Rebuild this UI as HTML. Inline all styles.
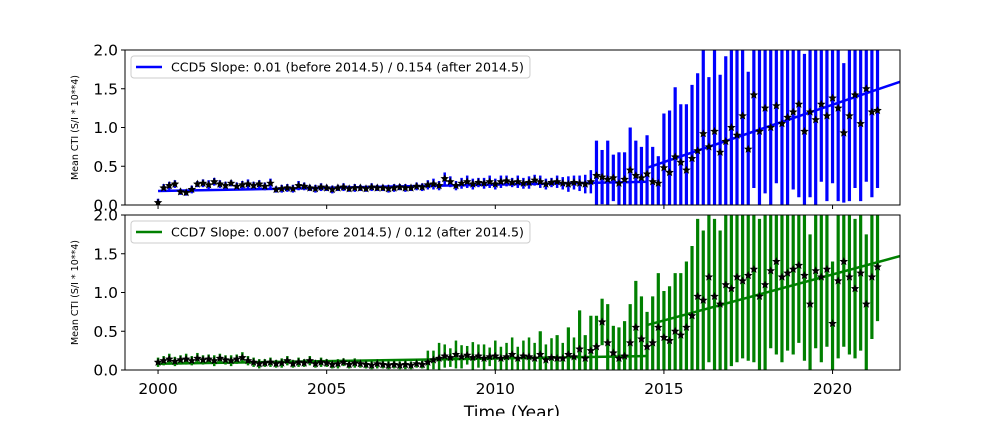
<!DOCTYPE html>
<html><head><meta charset="utf-8"><style>
body{margin:0;background:#fff;}
svg text{font-family:"DejaVu Sans","Liberation Sans",sans-serif;}
</style></head><body>
<svg id="chart" width="1000" height="416" xmlns="http://www.w3.org/2000/svg"></svg>
<script>
const years5Start = 2000.0;
const stepYear = 1/6;
const ccd5Values = [
0.03,0.22,0.25,0.27,0.17,0.16,
0.2,0.27,0.28,0.26,0.3,0.27,
0.25,0.28,0.24,0.26,0.27,0.25,
0.27,0.24,0.28,0.2,0.21,0.22,
0.21,0.25,0.24,0.22,0.21,0.23,
0.22,0.2,0.22,0.23,0.21,0.22,
0.22,0.21,0.23,0.22,0.22,0.21,
0.22,0.23,0.22,0.22,0.24,0.23,
0.26,0.27,0.25,0.34,0.3,0.25,
0.28,0.3,0.27,0.29,0.28,0.3,
0.27,0.3,0.31,0.29,0.3,0.28,
0.29,0.32,0.3,0.27,0.29,0.3,
0.28,0.27,0.29,0.28,0.27,0.3,
0.38,0.36,0.33,0.35,0.28,0.33,
0.45,0.38,0.35,0.4,0.3,0.28,
0.48,0.42,0.62,0.55,0.45,0.6,
0.7,0.92,0.75,0.95,0.68,0.82,
1.0,0.9,1.15,0.72,1.42,0.95,
1.25,1.0,1.28,1.05,1.13,1.2,
1.3,0.95,1.2,1.1,1.3,1.15,
1.38,1.25,0.93,1.15,1.42,1.05,
1.5,1.2,1.22];
const ccd5Errors = [
.05,.05,.05,.05,.04,.04,
.05,.04,.05,.06,.05,.05,
.05,.04,.05,.05,.06,.05,
.05,.05,.06,.04,.05,.05,
.05,.06,.05,.04,.05,.05,
.04,.05,.04,.05,.04,.05,
.04,.04,.05,.04,.04,.05,
.05,.04,.05,.04,.05,.05,
.06,.07,.06,.08,.07,.06,
.07,.08,.07,.06,.07,.08,
.07,.08,.07,.06,.08,.07,
.08,.07,.08,.07,.06,.08,
.08,.1,.09,.1,.12,.15,
.45,.35,.5,.3,.4,.35,
.55,.45,.4,.5,.45,.35,
.7,.8,.9,.75,.85,.95,
1.0,1.1,.9,1.2,1.0,1.1,
1.2,1.1,1.3,1.0,1.2,1.1,
1.1,1.2,1.0,1.1,1.2,1.0,
1.2,1.0,1.1,1.2,1.0,1.1,
1.1,1.2,.9,1.1,1.2,1.0,
1.2,1.1,1.0];
const ccd7Values = [
0.1,0.12,0.14,0.11,0.13,0.14,
0.12,0.15,0.13,0.14,0.12,0.15,
0.13,0.12,0.14,0.16,0.12,0.1,
0.08,0.09,0.1,0.08,0.09,0.12,
0.08,0.1,0.09,0.12,0.08,0.1,
0.09,0.07,0.08,0.1,0.07,0.09,
0.08,0.07,0.06,0.08,0.07,0.06,
0.07,0.06,0.07,0.06,0.08,0.07,
0.1,0.13,0.15,0.18,0.16,0.2,
0.17,0.19,0.16,0.18,0.15,0.17,
0.18,0.15,0.17,0.2,0.15,0.18,
0.17,0.15,0.2,0.13,0.16,0.15,
0.15,0.2,0.17,0.27,0.15,0.25,
0.3,0.62,0.35,0.22,0.15,0.18,
0.35,0.55,0.4,0.3,0.35,0.55,
0.42,0.38,0.5,0.45,0.55,0.7,
0.95,0.9,1.2,0.95,0.85,1.1,
1.05,1.2,1.15,1.22,1.3,0.95,
1.1,1.28,1.4,1.2,1.25,1.3,
1.35,1.22,0.85,1.28,1.2,1.3,
0.6,1.15,1.4,1.2,1.05,1.25,
0.85,1.2,1.33];
const ccd7Errors = [
.06,.06,.07,.06,.06,.07,
.06,.07,.06,.06,.07,.06,
.06,.07,.06,.07,.06,.06,
.06,.05,.06,.05,.06,.06,
.05,.06,.05,.06,.05,.06,
.05,.05,.06,.05,.05,.06,
.05,.05,.05,.06,.05,.05,
.05,.05,.06,.05,.05,.05,
.15,.12,.2,.15,.12,.18,
.15,.12,.2,.15,.18,.12,
.2,.15,.18,.22,.15,.2,
.25,.2,.3,.2,.25,.3,
.2,.35,.25,.5,.3,.45,
.4,.3,.5,.35,.4,.45,
.5,.6,.55,.45,.6,.7,
.6,.7,.75,.8,.85,.9,
1.0,.9,1.1,1.0,.95,1.1,
1.0,1.1,1.0,1.1,1.2,1.0,
1.1,1.0,1.2,1.1,1.0,1.1,
1.0,1.1,.9,1.0,1.1,1.0,
.8,1.0,1.1,1.0,.9,1.0,
.9,.8,.7];
const fit5 = [[2000,0.18],[2014.5,0.3],[2014.5,0.48],[2022,1.59]];
const fit7 = [[2000,0.08],[2014.5,0.18],[2014.5,0.58],[2022,1.47]];
const xTicks = [2000,2005,2010,2015,2020];
const yTicks = [0.0,0.5,1.0,1.5,2.0];

const svg = document.getElementById('chart');
const NS = 'http://www.w3.org/2000/svg';
const X0=125, X1=900, XMIN=1999.02, XMAX=2022;
function xs(v){return X0+(v-XMIN)/(XMAX-XMIN)*(X1-X0);}
function mk(tag, attrs, parent){const e=document.createElementNS(NS,tag);for(const k in attrs)e.setAttribute(k,attrs[k]);(parent||svg).appendChild(e);return e;}
function star(cx,cy,r){let p=[];for(let i=0;i<10;i++){const a=-Math.PI/2+i*Math.PI/5;const rr=i%2?r*0.45:r;p.push((cx+rr*Math.cos(a)).toFixed(1)+','+(cy+rr*Math.sin(a)).toFixed(1));}return p.join(' ');}

function panel(name, top, bottom, vals, errs, fit, color, label, showXLabels){
  const ys = v => bottom-(v/2)*(bottom-top);
  const g = mk('g',{});
  
  
  const clip = mk('clipPath',{id:'clip-'+name},g);
  mk('rect',{x:X0,y:top,width:X1-X0,height:bottom-top},clip);
  const plot = mk('g',{'clip-path':'url(#clip-'+name+')'},g);
  vals.forEach((v,i)=>{
    const t = years5Start+i*stepYear;
    const x = xs(t);
    const eb = mk('line',{x1:x,x2:x,y1:ys(v-errs[i]),y2:ys(v+errs[i]),stroke:color,'stroke-width':errs[i]>0.25?3.2:2.5},plot);
    
    
  });
  for(let k=0;k<fit.length;k+=2){
    const fl = mk('line',{x1:xs(fit[k][0]),y1:ys(fit[k][1]),x2:xs(fit[k+1][0]),y2:ys(fit[k+1][1]),stroke:color,'stroke-width':2.5},plot);
    
    
  }
  vals.forEach((v,i)=>{
    const t = years5Start+i*stepYear;
    const s = mk('polygon',{points:star(xs(t),ys(v),4.5),fill:'#000'},plot);
    
    
  });
  const fr = mk('rect',{x:X0,y:top,width:X1-X0,height:bottom-top,fill:'none',stroke:'#000','stroke-width':1},g);
  
  
  yTicks.forEach(v=>{
    const y=ys(v);
    mk('line',{x1:X0-4,x2:X0,y1:y,y2:y,stroke:'#000'},g);
    const tx=mk('text',{x:X0-7,y:y+5.5,'text-anchor':'end','font-size':15.5},g);
    tx.textContent=v.toFixed(1);
    
    
  });
  xTicks.forEach(v=>{
    const x=xs(v);
    mk('line',{x1:x,x2:x,y1:bottom,y2:bottom+4,stroke:'#000'},g);
    if(showXLabels){
      const tx=mk('text',{x:x,y:bottom+24,'text-anchor':'middle','font-size':15.5},g);
      tx.textContent=v;
      
      
    }
  });
  const yl=mk('text',{x:0,y:0,'text-anchor':'middle','font-size':9.5,transform:'translate(78,'+((top+bottom)/2)+') rotate(-90)'},g);
  yl.textContent='Mean CTI (S/I * 10**4)';
  
  
  const lg=mk('g',{},g);
  
  
  const box = mk('rect',{x:131,y:top+6,width:397,height:22,rx:3,fill:'#fff',stroke:'#ccc'},lg);
  mk('line',{x1:136,x2:162,y1:top+17,y2:top+17,stroke:color,'stroke-width':2.5},lg);
  const lt=mk('text',{x:171,y:top+21.5,'font-size':12.6},lg);
  lt.textContent=label;
  try{ box.setAttribute('width', lt.getComputedTextLength()+46); }catch(e){}
}
panel('ccd5',50,205,ccd5Values,ccd5Errors,fit5,'#0000ff','CCD5 Slope: 0.01 (before 2014.5) / 0.154 (after 2014.5)',false);
panel('ccd7',215,370,ccd7Values,ccd7Errors,fit7,'#008000','CCD7 Slope: 0.007 (before 2014.5) / 0.12 (after 2014.5)',true);
const xt=mk('text',{x:512,y:418,'text-anchor':'middle','font-size':17});
xt.textContent='Time (Year)';


</script>
</body></html>
